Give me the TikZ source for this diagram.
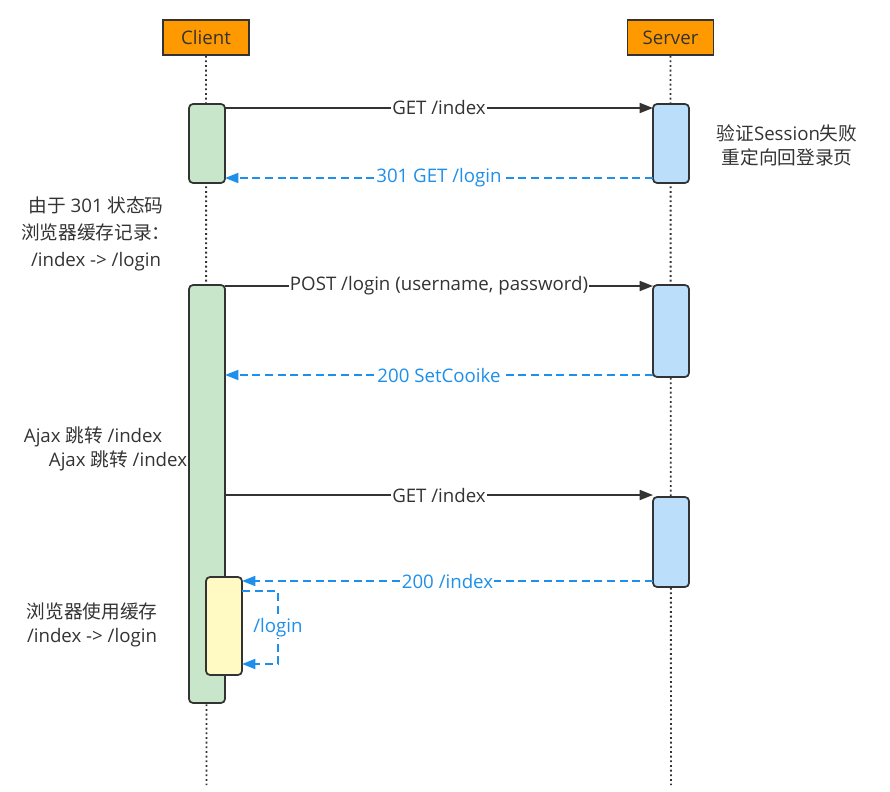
\documentclass[tikz,border=0pt]{standalone}
\usepackage{fontspec}
\setmainfont{Open Sans}
\newfontfamily\cjk{Noto Sans CJK SC}
\usetikzlibrary{arrows.meta}
\definecolor{ink}{HTML}{333333}
\definecolor{orng}{HTML}{FF9900}
\definecolor{grn}{HTML}{C8E6C9}
\definecolor{blu}{HTML}{BBDEFB}
\definecolor{ylw}{HTML}{FFF9C4}
\definecolor{arrblue}{HTML}{1E8FEA}
\tikzset{
  actor/.style={draw=ink, fill=orng, line width=1.3pt, minimum width=64.5pt, minimum height=26pt, inner sep=0pt, text=ink},
  actbox/.style={draw=ink, line width=1.3pt, rounded corners=3pt, minimum width=27pt, inner sep=0pt, outer sep=0pt},
  life/.style={ink, line width=1.4pt, dash pattern=on 1.4pt off 2.1pt},
  msg/.style={ink, line width=1.3pt, -{Triangle[length=10pt,width=7.5pt]}},
  ret/.style={arrblue, line width=1.3pt, dash pattern=on 6pt off 3.5pt, -{Triangle[length=10pt,width=7.5pt]}},
  lbl/.style={fill=white, inner sep=1pt, text=ink},
  rlbl/.style={fill=white, inner sep=1pt, text=arrblue},
  note/.style={text=ink, align=center, inner sep=0pt},
}
\begin{document}
\begin{tikzpicture}[x=0.75pt,y=-0.75pt, font=\fontsize{14}{18}\selectfont]
\useasboundingbox (0,0) rectangle (890,792);
% actors
\node[actor] (client) at (206,37.5) {Client};
\node[actor] (server) at (670.5,37.5) {Server};
\coordinate (cend) at (206.5,785);
\coordinate (send) at (671,785);
\draw[life] (client.south) -- (cend);
\draw[life] (server.south) -- (send);
% activations
\node[actbox, fill=grn, minimum height=59.25pt] (ca1) at (207,143.5) {};
\node[actbox, fill=blu, minimum height=59.25pt] (sa1) at (671,143.5) {};
\node[actbox, fill=grn, minimum height=313.5pt] (ca2) at (207,494) {};
\node[actbox, fill=blu, minimum height=69pt] (sa2) at (671,331) {};
\node[actbox, fill=blu, minimum height=67.5pt] (sa3) at (671,542) {};
\node[actbox, fill=ylw, minimum height=73.5pt] (ya) at (224,626) {};
% messages
\draw[msg] (ca1.east |- 0,108) -- node[lbl]{GET /index} (sa1.west |- 0,108);
\draw[ret] (sa1.west |- 0,178) -- node[rlbl]{301 GET /login} (ca1.east |- 0,178);
\draw[msg] (ca2.east |- 0,286) -- node[lbl]{POST /login (username, password)} (sa2.west |- 0,286);
\draw[ret] (sa2.west |- 0,375) -- node[rlbl]{200 SetCooike} (ca2.east |- 0,375);
\draw[msg] (ca2.east |- 0,495) -- node[lbl]{GET /index} (sa3.west |- 0,495);
\draw[ret] (sa3.west |- 0,581) -- node[rlbl]{200 /index} (ya.east |- 0,581);
\coordinate (l1) at (278,591);
\coordinate (l2) at (278,664);
\draw[ret] (ya.east |- l1) -- (l1) -- node[rlbl]{/login} (l2) -- (ya.east |- l2);
% notes
\node[note] (n1) at (787,145) {{\cjk 验证}Session{\cjk 失败}\\{\cjk 重定向回登录页}};
\node[note] (n2) at (96,234) {{\cjk 由于} 301 {\cjk 状态码}\\[2pt]{\cjk 浏览器缓存记录：}\\[2pt]/index -> /login};
\node[note] (n3) at (93,437) {Ajax {\cjk 跳转} /index};
\node[note] (n4) at (118,461) {Ajax {\cjk 跳转} /index};
\node[note] (n5) at (92,625) {{\cjk 浏览器使用缓存}\\/index -> /login};
\end{tikzpicture}
\end{document}
